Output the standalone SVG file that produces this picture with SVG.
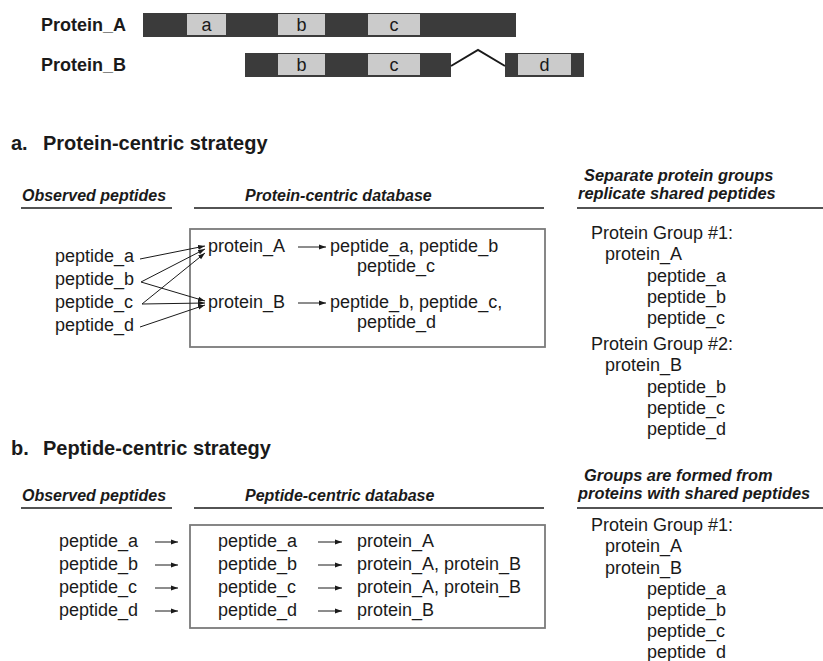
<svg xmlns="http://www.w3.org/2000/svg" width="823" height="661" viewBox="0 0 823 661">
  <style>
    text { font-family: "Liberation Sans", Arial, Helvetica, sans-serif; fill: #1a1a1a; }
    .lbl { font-size: 18px; }
    .name { font-size: 18px; font-weight: bold; }
    .title { font-size: 20px; font-weight: bold; }
    .hdr { font-size: 16px; font-weight: bold; font-style: italic; }
    .hdr2 { font-size: 16.4px; font-weight: bold; font-style: italic; }
    .bar { fill: #3b3b3b; }
    .seg { fill: #cbcbcb; }
    .seglbl { font-size: 18px; text-anchor: middle; }
    .rule { stroke: #1a1a1a; stroke-width: 1.5; }
    .frame { fill: none; stroke: #7a7a7a; stroke-width: 1.8; }
    .conn { stroke: #1a1a1a; stroke-width: 1; fill: none; marker-end: url(#ah); }
    .splice { stroke: #1a1a1a; stroke-width: 2; fill: none; }
  </style>
  <defs>
    <marker id="ah" markerUnits="userSpaceOnUse" markerWidth="8" markerHeight="6" refX="7" refY="3" orient="auto">
      <path d="M0,0.6 L7,3 L0,5.4 z" fill="#1a1a1a"/>
    </marker>
  </defs>

  <!-- protein sequence maps -->
  <g id="protein-a-map">
    <text class="name" x="41" y="31">Protein_A</text>
    <rect class="bar" x="143" y="13" width="373" height="24"/>
    <rect class="seg" x="187" y="14" width="39" height="21"/>
    <rect class="seg" x="278" y="14" width="47" height="21"/>
    <rect class="seg" x="368" y="14" width="52" height="21"/>
    <text class="seglbl" x="206.5" y="31">a</text>
    <text class="seglbl" x="301.5" y="31">b</text>
    <text class="seglbl" x="394" y="31">c</text>
  </g>
  <g id="protein-b-map">
    <text class="name" x="41" y="71">Protein_B</text>
    <rect class="bar" x="245" y="53" width="206" height="24"/>
    <rect class="bar" x="505" y="53" width="79" height="24"/>
    <polyline class="splice" points="451,66 478,50 505,66"/>
    <rect class="seg" x="278" y="54" width="47" height="21"/>
    <rect class="seg" x="368" y="54" width="52" height="21"/>
    <rect class="seg" x="518" y="54" width="53" height="21"/>
    <text class="seglbl" x="301.5" y="71">b</text>
    <text class="seglbl" x="394" y="71">c</text>
    <text class="seglbl" x="544.5" y="71">d</text>
  </g>

  <!-- a. protein-centric strategy -->
  <g id="section-a-title">
    <text class="title" x="11" y="150">a.</text>
    <text class="title" x="43" y="150">Protein-centric strategy</text>
  </g>
  <g id="section-a-headers">
    <text class="hdr" x="22" y="201">Observed peptides</text>
    <line class="rule" x1="21" y1="208" x2="172" y2="208"/>
    <text class="hdr" x="245" y="201">Protein-centric database</text>
    <line class="rule" x1="194" y1="208" x2="544" y2="208"/>
    <text class="hdr2" x="584" y="180.5">Separate protein groups</text>
    <text class="hdr2" x="578" y="199">replicate shared peptides</text>
    <line class="rule" x1="577" y1="208" x2="823" y2="208"/>
  </g>
  <g id="a-observed">
    <text class="lbl" x="55" y="262">peptide_a</text>
    <text class="lbl" x="55" y="285">peptide_b</text>
    <text class="lbl" x="55" y="308">peptide_c</text>
    <text class="lbl" x="55" y="331">peptide_d</text>
  </g>
  <g id="a-database">
    <rect class="frame" x="190" y="229" width="355" height="118"/>
    <text class="lbl" x="208" y="252">protein_A</text>
    <text class="lbl" x="330" y="252">peptide_a, peptide_b</text>
    <text class="lbl" x="357" y="272">peptide_c</text>
    <text class="lbl" x="208" y="308">protein_B</text>
    <text class="lbl" x="330" y="308">peptide_b, peptide_c,</text>
    <text class="lbl" x="357" y="328">peptide_d</text>
  </g>
  <g id="a-groups">
    <text class="lbl" x="591" y="239">Protein Group #1:</text>
    <text class="lbl" x="605" y="260">protein_A</text>
    <text class="lbl" x="647" y="282">peptide_a</text>
    <text class="lbl" x="647" y="303">peptide_b</text>
    <text class="lbl" x="647" y="324">peptide_c</text>
    <text class="lbl" x="591" y="350">Protein Group #2:</text>
    <text class="lbl" x="605" y="371">protein_B</text>
    <text class="lbl" x="647" y="393">peptide_b</text>
    <text class="lbl" x="647" y="414">peptide_c</text>
    <text class="lbl" x="647" y="435">peptide_d</text>
  </g>

  <!-- b. peptide-centric strategy -->
  <g id="section-b-title">
    <text class="title" x="11" y="455">b.</text>
    <text class="title" x="43" y="455">Peptide-centric strategy</text>
  </g>
  <g id="section-b-headers">
    <text class="hdr" x="22" y="501">Observed peptides</text>
    <line class="rule" x1="21" y1="508" x2="172" y2="508"/>
    <text class="hdr" x="245" y="501">Peptide-centric database</text>
    <line class="rule" x1="194" y1="508" x2="544" y2="508"/>
    <text class="hdr2" x="584" y="480.5">Groups are formed from</text>
    <text class="hdr2" x="578" y="499">proteins with shared peptides</text>
    <line class="rule" x1="577" y1="508" x2="823" y2="508"/>
  </g>
  <g id="b-observed">
    <text class="lbl" x="59" y="547">peptide_a</text>
    <text class="lbl" x="59" y="570">peptide_b</text>
    <text class="lbl" x="59" y="593">peptide_c</text>
    <text class="lbl" x="59" y="616">peptide_d</text>
  </g>
  <g id="b-database">
    <rect class="frame" x="190" y="525" width="355" height="103"/>
    <text class="lbl" x="218" y="547">peptide_a</text>
    <text class="lbl" x="218" y="570">peptide_b</text>
    <text class="lbl" x="218" y="593">peptide_c</text>
    <text class="lbl" x="218" y="616">peptide_d</text>
    <text class="lbl" x="357" y="547">protein_A</text>
    <text class="lbl" x="357" y="570">protein_A, protein_B</text>
    <text class="lbl" x="357" y="593">protein_A, protein_B</text>
    <text class="lbl" x="357" y="616">protein_B</text>
  </g>
  <g id="b-groups">
    <text class="lbl" x="591" y="531">Protein Group #1:</text>
    <text class="lbl" x="605" y="552">protein_A</text>
    <text class="lbl" x="605" y="574">protein_B</text>
    <text class="lbl" x="647" y="595">peptide_a</text>
    <text class="lbl" x="647" y="616">peptide_b</text>
    <text class="lbl" x="647" y="637">peptide_c</text>
    <text class="lbl" x="647" y="658">peptide_d</text>
  </g>

  <!-- connectors -->
  <g id="connectors">
    <line class="conn" x1="140" y1="259" x2="205" y2="246"/>
    <line class="conn" x1="141" y1="282" x2="205" y2="249"/>
    <line class="conn" x1="141" y1="282" x2="205" y2="301"/>
    <line class="conn" x1="142" y1="304" x2="205" y2="253"/>
    <line class="conn" x1="142" y1="304" x2="205" y2="303"/>
    <line class="conn" x1="140" y1="327" x2="205" y2="305"/>
    <line class="conn" x1="298" y1="247" x2="326" y2="247"/>
    <line class="conn" x1="298" y1="303" x2="326" y2="303"/>
    <line class="conn" x1="155" y1="542" x2="178" y2="542"/>
    <line class="conn" x1="155" y1="565" x2="178" y2="565"/>
    <line class="conn" x1="155" y1="588" x2="178" y2="588"/>
    <line class="conn" x1="155" y1="611" x2="178" y2="611"/>
    <line class="conn" x1="318" y1="542" x2="342" y2="542"/>
    <line class="conn" x1="318" y1="565" x2="342" y2="565"/>
    <line class="conn" x1="318" y1="588" x2="342" y2="588"/>
    <line class="conn" x1="318" y1="611" x2="342" y2="611"/>
  </g>
</svg>
